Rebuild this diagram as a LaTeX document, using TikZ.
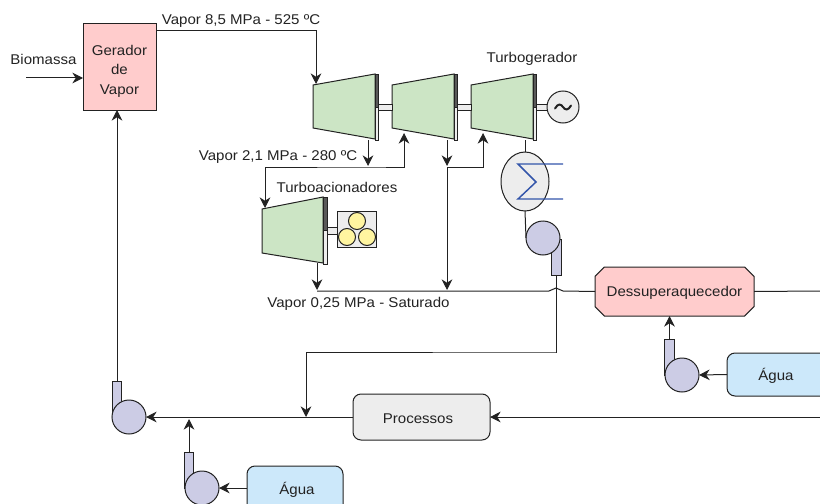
\documentclass[tikz,border=0pt]{standalone}
\usepackage{fontspec}
\setmainfont[FakeStretch=1.065]{Liberation Sans}
\usetikzlibrary{arrows.meta,shapes.misc,shapes.geometric,calc}
\definecolor{ln}{HTML}{222222}
\definecolor{pinkf}{HTML}{FFCCCC}
\definecolor{greenf}{HTML}{CCE5C5}
\definecolor{purplef}{HTML}{CCCCE5}
\definecolor{bluef}{HTML}{CCE8FA}
\definecolor{grayf}{HTML}{EDEDED}
\definecolor{yellowf}{HTML}{FFF5A0}
\definecolor{sigmac}{HTML}{3355AA}
\tikzset{
  conn/.style={draw=ln,line width=0.75pt},
  flow/.style={conn,-{Stealth[length=8pt,width=8pt]}},
  sz/.style 2 args={minimum width=#1*0.75pt,minimum height=#2*0.75pt,inner sep=0pt,outer sep=0pt},
  lbl/.style={inner sep=0pt,text=ln,font=\fontsize{10.6pt}{12.5pt}\selectfont,align=center},
  lblfree/.style={lbl,yshift=-1pt},
  blk/.style={draw=ln,line width=0.75pt},
  pumpc/.style={circle,blk,fill=purplef,sz={34}{34}},
  pumpt/.style={rectangle,blk,fill=purplef,sz={9.5}{36}},
  turb/.style={draw=ln,line width=0.75pt,fill=greenf},
  bardark/.style={draw=ln,line width=0.5pt,fill=black!65},
  barlight/.style={draw=ln,line width=0.5pt,fill=grayf},
  shaft/.style={draw=ln,line width=0.5pt,fill=grayf},
  gear/.style={circle,blk,fill=yellowf,sz={17}{17}},
}
\begin{document}
\begin{tikzpicture}[x=0.75pt,y=-0.75pt]
\useasboundingbox (0,0) rectangle (820,503);
\clip (0,0) rectangle (820,503);

% turbines
\draw[turb] (313,85) -- (375,74) -- (375,139) -- (313,128) -- cycle;
\draw[turb] (392,85) -- (454,74) -- (454,139) -- (392,128) -- cycle;
\draw[turb] (471,85) -- (533,74) -- (533,139) -- (471,128) -- cycle;
\draw[turb] (262,209) -- (323,197) -- (323,263) -- (262,253) -- cycle;
\foreach \x in {375,454,533}{
  \draw[bardark] (\x,74) rectangle (\x+3,107);
  \draw[barlight] (\x,107) rectangle (\x+3,140);
}
\draw[bardark] (323,197) rectangle (327,230);
\draw[barlight] (323,230) rectangle (327,264);
\draw[shaft] (378,104) rectangle (392,110);
\draw[shaft] (457,104) rectangle (471,110);
\draw[shaft] (536,104) rectangle (547,110);
\draw[shaft] (327,227) rectangle (337,234);

% named points on the turbines
\coordinate (t1out) at (368,140);
\coordinate (t1in) at (316,84);
\coordinate (t2in) at (404,133);
\coordinate (t2out) at (447,140);
\coordinate (t3in) at (483,133);
\coordinate (t3out) at (525,140);
\coordinate (t4in) at (265,208);
\coordinate (t4out) at (317,263);

% blocks
\node[rectangle,blk,fill=pinkf,sz={73}{86}] (ger) at (119.5,67) {};
\node[lblfree] at (119.5,70) {Gerador\\[1.8pt]de\\[1.8pt]Vapor};
\node[circle,blk,fill=grayf,sz={32}{32}] (gen) at (563,107) {};
\draw[ln,line width=1.5pt,line cap=round] (555,108.5) .. controls (558,103) and (561,104) .. (563,107) .. controls (565,110) and (568,111) .. (571,105.5);
\node[rectangle,draw=ln,line width=0.6pt,fill=grayf,sz={39}{36}] (drv) at (356.5,229) {};
\node[gear] (g1) at (357,221) {};
\node[gear] (g2) at (347,237) {};
\node[gear] (g3) at (367,237) {};
\node[ellipse,blk,fill=grayf,sz={48}{59}] (cond) at (525,181.5) {};
\draw[sigmac,line width=1.1pt] (563,164) -- (518,164) -- (536,182) -- (518,199) -- (563,199);
\node[chamfered rectangle,chamfered rectangle xsep=3.5pt,chamfered rectangle ysep=3.5pt,blk,fill=pinkf,sz={159}{49},lbl] (des) at (674.5,291.5) {\rule{0pt}{10pt}Dessuperaquecedor};
\node[rectangle,rounded corners=6pt,blk,fill=grayf,sz={137}{46}] (proc) at (421.5,417) {};
\node[lblfree] at (418,417) {Processos};
\node[rectangle,rounded corners=6pt,draw=ln,line width=0.75pt,fill=bluef,sz={106}{43}] (ag1) at (780,374.5) {};
\node[lblfree] at (776,374.5) {Água};
\node[rectangle,rounded corners=6pt,draw=ln,line width=0.75pt,fill=bluef,sz={96}{50}] (ag2) at (295,491) {};
\node[lblfree] at (297,488) {Água};

% pumps
\node[pumpt] (p1t) at (556.5,257) {};
\node[pumpc] (p1) at (543,238) {};
\node[pumpt] (p2t) at (669.5,357) {};
\node[pumpc] (p2) at (682,375) {};
\node[pumpt] (p3t) at (117,399) {};
\node[pumpc] (p3) at (129,417) {};
\node[pumpt] (p4t) at (189,470) {};
\node[pumpc] (p4) at (202,488) {};

% junctions
\coordinate (j1) at (368,167);
\coordinate (j2) at (447,167);
\coordinate (j3) at (317,291);
\coordinate (j4) at (447,291);
\coordinate (h1) at (549,291);
\coordinate (h2) at (563,291);
\coordinate (j5) at (306,417);
\coordinate (j6) at (189,417);
\coordinate (bio) at (26,78);

% connectors
\draw[flow] (bio) -- (ger.west |- bio);
\draw[flow] (ger.east |- 0,31) -| (t1in);
\draw[flow] (t1out) -- ($(j1)+(0,-1)$);
\draw[flow] (t4in |- j1) -- (t4in);
\draw[flow] (t4in |- j1) -- (j1) -| (t2in);
\draw[flow] (t2out) -- ($(j2)+(0,-1)$);
\draw[flow] (j2) -- ($(j4)+(0,-1)$);
\draw[flow] (j2) -| (t3in);
\draw[flow] (t4out) -- ($(j3)+(0,-1)$);
\draw[conn] (t3out) -- (cond.north);
\draw[conn] (cond.south) -- (p1.west);
\draw[conn] (j3) -- (h1) .. controls (552,291) and (553,288) .. (556,288) .. controls (559,288) and (560,291) .. (h2) -- (des.west);
\draw[conn] (des.east) -- (820,291);
\draw[flow] (p1t.south) |- (556,352) -| (j5);
\draw[flow] (proc.west) -- (p3.east);
\draw[flow] (820,417) -- (proc.east);
\draw[flow] (p3t.north) -- (p3t.north |- ger.south);
\draw[flow] (p4t.north) -- ($(j6)+(0,2)$);
\draw[flow] (ag2.west |- p4) -- (p4.east);
\draw[flow] (ag1.west) -- (p2.east);
\draw[flow] (p2t.north) -- (p2t.north |- des.south);

% labels
\node[lblfree] at (43.5,58) {Biomassa};
\node[lblfree] at (241,20) {Vapor 8,5 MPa - 525 ºC};
\node[lblfree] at (532,58) {Turbogerador};
\node[lblfree] at (278,156) {Vapor 2,1 MPa - 280 ºC};
\node[lblfree] at (337,186) {Turboacionadores};
\node[lblfree] at (358.5,303) {Vapor 0,25 MPa - Saturado};
\end{tikzpicture}
\end{document}
